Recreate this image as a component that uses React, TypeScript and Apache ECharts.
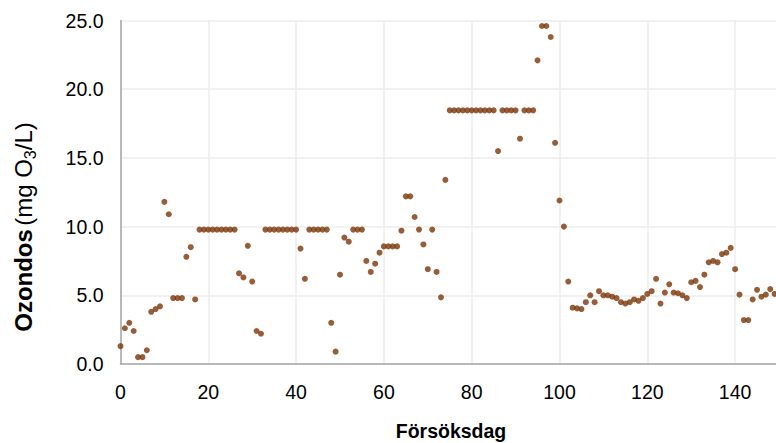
import React, { useEffect, useRef } from "react";
import * as echarts from "echarts";

// Daily ozone dose, one value per trial day starting at day 0
const ozoneDose: number[] = [
  1.3, 2.6, 3.0, 2.4, 0.5, 0.5, 1.0, 3.8, 4.0, 4.2,
  11.8, 10.9, 4.8, 4.8, 4.8, 7.8, 8.5, 4.7, 9.78, 9.78,
  9.78, 9.78, 9.78, 9.78, 9.78, 9.78, 9.78, 6.6, 6.3, 8.6,
  6.0, 2.4, 2.2, 9.78, 9.78, 9.78, 9.78, 9.78, 9.78, 9.78,
  9.78, 8.4, 6.2, 9.78, 9.78, 9.78, 9.78, 9.78, 3.0, 0.9,
  6.5, 9.2, 8.9, 9.78, 9.78, 9.78, 7.5, 6.7, 7.3, 8.1,
  8.56, 8.56, 8.56, 8.56, 9.7, 12.2, 12.2, 10.7, 9.78, 8.7,
  6.9, 9.78, 6.7, 4.85, 13.4, 18.46, 18.46, 18.46, 18.46, 18.46,
  18.46, 18.46, 18.46, 18.46, 18.46, 18.46, 15.5, 18.46, 18.46, 18.46,
  18.46, 16.4, 18.46, 18.46, 18.46, 22.1, 24.6, 24.6, 23.8, 16.1,
  11.9, 10.0, 6.0, 4.1, 4.05, 4.0, 4.5, 5.0, 4.5, 5.3,
  5.0, 5.0, 4.9, 4.8, 4.5, 4.4, 4.5, 4.7, 4.6, 4.8,
  5.1, 5.3, 6.2, 4.4, 5.2, 5.8, 5.2, 5.15, 5.0, 4.8,
  5.95, 6.05, 5.6, 6.5, 7.4, 7.5, 7.4, 8.0, 8.1, 8.45,
  6.9, 5.05, 3.2, 3.2, 4.7, 5.4, 4.9, 5.05, 5.45, 5.1,
];

const xTitle = "Försöksdag";
const yTitleBold = "Ozondos";
const yTitleUnitStart = "(mg O";
const yTitleSub = "3";
const yTitleUnitEnd = "/L)";

const FONT = "'Liberation Sans', Arial, Helvetica, sans-serif";
const DOT = "#7C3508";
const TICK_SIZE = 19.5;
const X_TITLE_SIZE = 19.5;
const Y_TITLE_SIZE = 24;

export default function App() {
  const ref = useRef<HTMLDivElement>(null);

  useEffect(() => {
    if (!ref.current) return;
    const chart = echarts.init(ref.current, undefined, { renderer: "svg" });
    const points = ozoneDose.map((v, day) => [day, v]);

    chart.setOption({
      animation: false,
      backgroundColor: "#ffffff",
      grid: {
        left: 120.5,
        top: 20.5,
        width: 702.4,
        height: 343.5,
        containLabel: false,
        outerBoundsMode: "none",
      },
      xAxis: {
        type: "value",
        min: 0,
        max: 160,
        interval: 20,
        axisLine: { show: true, onZero: false, lineStyle: { color: "#A6A6A6", width: 1.5 } },
        axisTick: { show: false },
        splitLine: { show: true, lineStyle: { color: "#EDEDED", width: 1.5 } },
        axisLabel: {
          color: "#000",
          fontFamily: FONT,
          fontSize: TICK_SIZE,
          margin: 18,
          showMaxLabel: false,
        },
      },
      yAxis: {
        type: "value",
        min: 0,
        max: 25,
        interval: 5,
        axisLine: { show: true, lineStyle: { color: "#A6A6A6", width: 1.5 } },
        axisTick: { show: false },
        splitLine: { show: true, lineStyle: { color: "#EDEDED", width: 1.5 } },
        axisLabel: {
          color: "#000",
          fontFamily: FONT,
          fontSize: TICK_SIZE,
          margin: 17,
          formatter: (v: number) => v.toFixed(1),
        },
      },
      graphic: [
        {
          type: "text",
          x: 451,
          y: 431,
          style: {
            text: xTitle,
            font: `bold ${X_TITLE_SIZE}px ${FONT}`,
            fill: "#000",
            align: "center",
            verticalAlign: "middle",
          },
        },
        {
          type: "text",
          x: 23,
          y: 227,
          rotation: Math.PI / 2,
          style: {
            text: `{b|${yTitleBold}} {n|${yTitleUnitStart}}{s|${yTitleSub}}{n|${yTitleUnitEnd}}`,
            align: "center",
            verticalAlign: "middle",
            fill: "#000",
            rich: {
              b: { fontFamily: FONT, fontSize: Y_TITLE_SIZE, fontWeight: "bold", lineHeight: 30, fill: "#000" },
              n: { fontFamily: FONT, fontSize: Y_TITLE_SIZE, lineHeight: 30, fill: "#000" },
              s: { fontFamily: FONT, fontSize: 16, lineHeight: 16, verticalAlign: "bottom", fill: "#000" },
            },
          },
        },
      ],
      series: [
        {
          type: "scatter",
          data: points,
          symbol: "circle",
          symbolSize: 6,
          itemStyle: { color: DOT },
          clip: false,
        },
      ],
    });

    return () => chart.dispose();
  }, []);

  return <div ref={ref} style={{ width: 776, height: 443, position: "absolute", left: 0, top: 0 }} />;
}
